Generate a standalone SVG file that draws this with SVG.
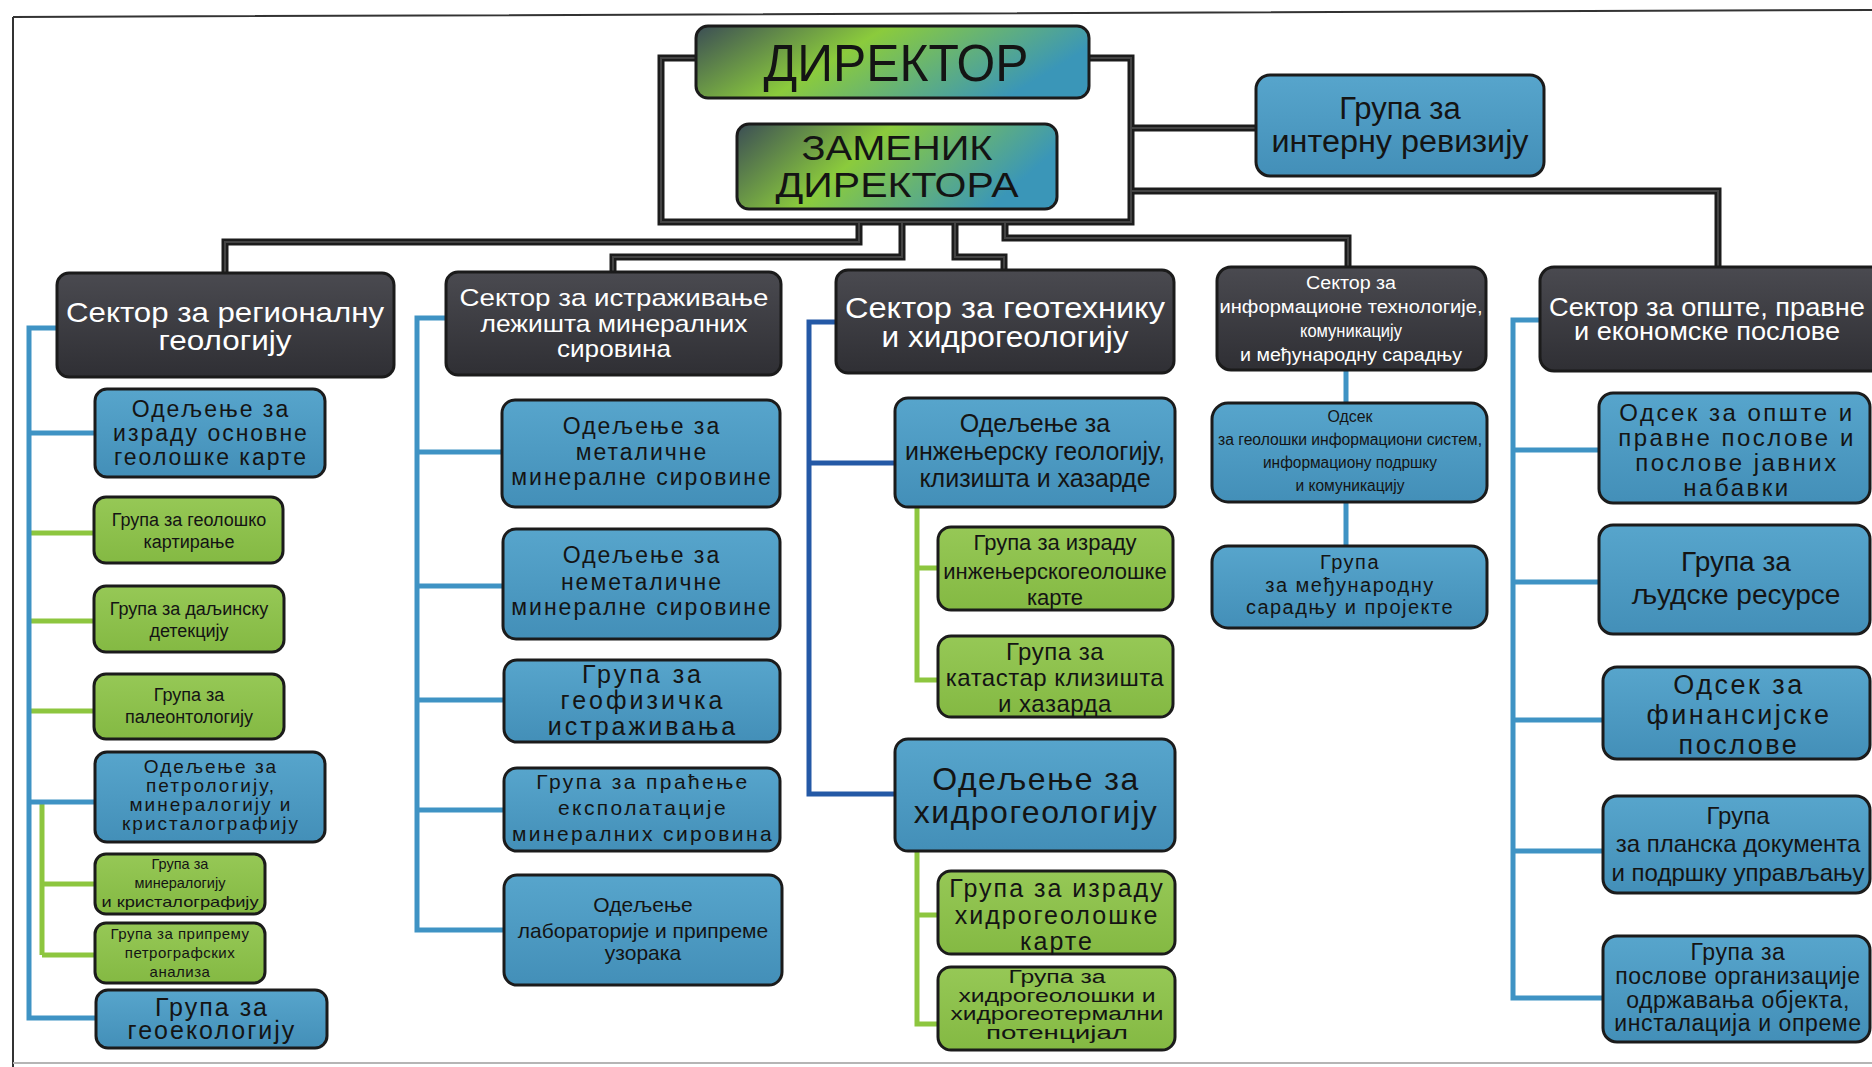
<svg xmlns="http://www.w3.org/2000/svg" width="1872" height="1067" viewBox="0 0 1872 1067">
<defs>
<linearGradient id="gTop" x1="0" y1="0" x2="1" y2="0.3">
<stop offset="0" stop-color="#3b4d55"/><stop offset="0.45" stop-color="#8bcb3c"/><stop offset="1" stop-color="#3a96b8"/>
</linearGradient>
<linearGradient id="gSec" x1="0" y1="0" x2="0" y2="1">
<stop offset="0" stop-color="#4a4a50"/><stop offset="1" stop-color="#2f2f34"/>
</linearGradient>
<linearGradient id="gBlue" x1="0" y1="0" x2="0" y2="1">
<stop offset="0" stop-color="#57a5cc"/><stop offset="1" stop-color="#438fb8"/>
</linearGradient>
<linearGradient id="gGreen" x1="0" y1="0" x2="0" y2="1">
<stop offset="0" stop-color="#96c856"/><stop offset="1" stop-color="#84b943"/>
</linearGradient>
</defs>
<style>
.box{stroke:#1b1b1b;stroke-width:3}
.top{fill:url(#gTop)}
.sec{fill:url(#gSec)}
.blue{fill:url(#gBlue)}
.green{fill:url(#gGreen)}
text{font-family:"Liberation Sans",Arial,sans-serif;text-anchor:middle;fill:#141414}
.st{fill:#ffffff}
.wide{letter-spacing:1.5px}
.blk{fill:none;stroke:#1c1c1c;stroke-width:7}
.blk2{fill:none;stroke:#444;stroke-width:2}
.bl{fill:none;stroke:#3f93c4;stroke-width:5}
.dbl{fill:none;stroke:#2459a6;stroke-width:5}
.gr{fill:none;stroke:#8dc63f;stroke-width:5}
.frame{fill:none;stroke:#333;stroke-width:2}
</style>
<rect width="1872" height="1067" fill="#ffffff"/>
<path class="frame" d="M13,17 L1872,10 M13,17 V1067"/>
<path d="M13,1063 H1872" stroke="#b5b5b5" stroke-width="2"/>

<g id="connectors">
<g id="black">
<path class="blk" d="M696,58 H661 V222 H1131 V58 H1088"/>
<path class="blk" d="M1131,128 H1256"/>
<path class="blk" d="M1131,191 H1718 V268"/>
<path class="blk" d="M859,222 V242 H225 V274"/>
<path class="blk" d="M902,222 V257 H613 V272"/>
<path class="blk" d="M955,222 V257 H1004 V271"/>
<path class="blk" d="M1005,222 V238 H1348 V268"/>
<path class="blk2" d="M696,58 H661 V222 H1131 V58 H1088 M1131,128 H1256 M1131,191 H1718 V268 M859,222 V242 H225 V274 M902,222 V257 H613 V272 M955,222 V257 H1004 V271 M1005,222 V238 H1348 V268"/>
</g>
<g id="col1">
<path class="gr" d="M29,533 H95 M29,621 H95 M29,711 H95 M42,802 V955 M42,884 H96 M42,955 H96"/>
<path class="bl" d="M57,328 H29 V1018 H97 M29,433 H96 M29,802 H96"/>
</g>
<g id="col2">
<path class="bl" d="M446,318 H417 V930 H504 M417,452 H503 M417,586 H504 M417,700 H505 M417,810 H505"/>
</g>
<g id="col3">
<path class="dbl" d="M836,322 H809 V794 H896 M809,463 H896"/>
<path class="gr" d="M917,507 V680 H939 M917,568 H939 M917,851 V1024 H939 M917,915 H939"/>
</g>
<g id="col4">
<path class="bl" d="M1346,370 V404 M1346,502 V547"/>
</g>
<g id="col5">
<path class="bl" d="M1540,320 H1513 V998 H1604 M1513,450 H1600 M1513,582 H1600 M1513,720 H1604 M1513,851 H1604"/>
</g>
</g>

<g id="n-direktor"><rect class="box top" x="696" y="26" width="393" height="72" rx="12"/>
<text x="896" y="81" font-size="52" textLength="265" lengthAdjust="spacingAndGlyphs">ДИРЕКТОР</text></g>
<g id="n-zamenik"><rect class="box top" x="737" y="124" width="320" height="85" rx="12"/>
<text x="897" y="160" font-size="35" textLength="191" lengthAdjust="spacingAndGlyphs">ЗАМЕНИК</text><text x="897" y="197" font-size="35" textLength="243" lengthAdjust="spacingAndGlyphs">ДИРЕКТОРА</text></g>
<g id="n-revizija"><rect class="box blue" x="1256" y="75" width="288" height="101" rx="14"/>
<text x="1400" y="119" font-size="31">Група за</text><text x="1400" y="152" font-size="31" textLength="257" lengthAdjust="spacingAndGlyphs">интерну ревизију</text></g>

<g id="s1"><rect class="box sec" x="57" y="273" width="337" height="104" rx="12"/>
<text class="st" x="225" y="322" font-size="28" textLength="318" lengthAdjust="spacingAndGlyphs">Сектор за регионалну</text><text class="st" x="225" y="350" font-size="28" textLength="133" lengthAdjust="spacingAndGlyphs">геологију</text></g>
<g id="s2"><rect class="box sec" x="446" y="272" width="335" height="103" rx="12"/>
<text class="st" font-size="24"><tspan x="614" y="306" textLength="309" lengthAdjust="spacingAndGlyphs">Сектор за истраживање</tspan><tspan x="614" y="332" textLength="267" lengthAdjust="spacingAndGlyphs">лежишта минералних</tspan><tspan x="614" y="357" textLength="114" lengthAdjust="spacingAndGlyphs">сировина</tspan></text></g>
<g id="s3"><rect class="box sec" x="836" y="270" width="338" height="103" rx="12"/>
<text class="st" font-size="29"><tspan x="1005" y="318" textLength="320" lengthAdjust="spacingAndGlyphs">Сектор за геотехнику</tspan><tspan x="1005" y="347" textLength="247" lengthAdjust="spacingAndGlyphs">и хидрогеологију</tspan></text></g>
<g id="s4"><rect class="box sec" x="1217" y="267" width="269" height="103" rx="14"/>
<text class="st" font-size="18"><tspan x="1351" y="289" textLength="90" lengthAdjust="spacingAndGlyphs">Сектор за</tspan><tspan x="1351" y="313" textLength="263" lengthAdjust="spacingAndGlyphs">информационе технологије,</tspan><tspan x="1351" y="337" textLength="102" lengthAdjust="spacingAndGlyphs">комуникацију</tspan><tspan x="1351" y="361" textLength="222" lengthAdjust="spacingAndGlyphs">и међународну сарадњу</tspan></text></g>
<g id="s5"><rect class="box sec" x="1540" y="267" width="345" height="104" rx="14"/>
<text class="st" font-size="25"><tspan x="1707" y="316" textLength="316" lengthAdjust="spacingAndGlyphs">Сектор за опште, правне</tspan><tspan x="1707" y="340" textLength="266" lengthAdjust="spacingAndGlyphs">и економске послове</tspan></text></g>

<g id="c1n1"><rect class="box blue" x="95" y="389" width="230" height="88" rx="12"/>
<text font-size="23" letter-spacing="2"><tspan x="211" y="417">Одељење за</tspan><tspan x="211" y="441">израду основне</tspan><tspan x="211" y="465">геолошке карте</tspan></text></g>
<g id="c1n2"><rect class="box green" x="94" y="497" width="189" height="66" rx="12"/>
<text font-size="18"><tspan x="189" y="526">Група за геолошко</tspan><tspan x="189" y="548">картирање</tspan></text></g>
<g id="c1n3"><rect class="box green" x="94" y="586" width="190" height="66" rx="12"/>
<text font-size="18"><tspan x="189" y="615">Група за даљинску</tspan><tspan x="189" y="637">детекцију</tspan></text></g>
<g id="c1n4"><rect class="box green" x="94" y="674" width="190" height="65" rx="12"/>
<text font-size="18"><tspan x="189" y="701">Група за</tspan><tspan x="189" y="723">палеонтологију</tspan></text></g>
<g id="c1n5"><rect class="box blue" x="95" y="752" width="230" height="90" rx="12"/>
<text font-size="19" letter-spacing="2"><tspan x="211" y="773">Одељење за</tspan><tspan x="211" y="792">петрологију,</tspan><tspan x="211" y="811">минералогију и</tspan><tspan x="211" y="830">кристалографију</tspan></text></g>
<g id="c1n6"><rect class="box green" x="95" y="854" width="170" height="60" rx="11"/>
<text font-size="14.5"><tspan x="180" y="869">Група за</tspan><tspan x="180" y="888">минералогију</tspan><tspan x="180" y="907" textLength="157" lengthAdjust="spacingAndGlyphs">и кристалографију</tspan></text></g>
<g id="c1n7"><rect class="box green" x="95" y="923" width="170" height="60" rx="11"/>
<text font-size="15" letter-spacing="0.5"><tspan x="180" y="939">Група за припрему</tspan><tspan x="180" y="958">петрографских</tspan><tspan x="180" y="977">анализа</tspan></text></g>
<g id="c1n8"><rect class="box blue" x="96" y="990" width="231" height="58" rx="12"/>
<text font-size="25" letter-spacing="2"><tspan x="212" y="1016">Група за</tspan><tspan x="212" y="1039">геоекологију</tspan></text></g>

<g id="c2n1"><rect class="box blue" x="502" y="400" width="278" height="107" rx="13"/>
<text font-size="23" letter-spacing="2"><tspan x="642" y="434">Одељење за</tspan><tspan x="642" y="460">металичне</tspan><tspan x="642" y="485">минералне сировине</tspan></text></g>
<g id="c2n2"><rect class="box blue" x="503" y="529" width="277" height="110" rx="13"/>
<text font-size="23" letter-spacing="2"><tspan x="642" y="563">Одељење за</tspan><tspan x="642" y="590">неметаличне</tspan><tspan x="642" y="615">минералне сировине</tspan></text></g>
<g id="c2n3"><rect class="box blue" x="504" y="660" width="276" height="82" rx="13"/>
<text font-size="25" letter-spacing="3"><tspan x="643" y="683">Група за</tspan><tspan x="643" y="709">геофизичка</tspan><tspan x="643" y="735">истраживања</tspan></text></g>
<g id="c2n4"><rect class="box blue" x="504" y="768" width="276" height="83" rx="13"/>
<text font-size="21" letter-spacing="2.4"><tspan x="643" y="789">Група за праћење</tspan><tspan x="643" y="815">експолатације</tspan><tspan x="643" y="841">минералних сировина</tspan></text></g>
<g id="c2n5"><rect class="box blue" x="504" y="875" width="278" height="110" rx="13"/>
<text font-size="21"><tspan x="643" y="912">Одељење</tspan><tspan x="643" y="938">лабораторије и припреме</tspan><tspan x="643" y="960">узорака</tspan></text></g>

<g id="c3n1"><rect class="box blue" x="895" y="398" width="280" height="109" rx="13"/>
<text font-size="25"><tspan x="1035" y="432">Одељење за</tspan><tspan x="1035" y="460">инжењерску геологију,</tspan><tspan x="1035" y="487">клизишта и хазарде</tspan></text></g>
<g id="c3n2"><rect class="box green" x="938" y="527" width="235" height="83" rx="13"/>
<text font-size="22"><tspan x="1055" y="550">Група за израду</tspan><tspan x="1055" y="579">инжењерскогеолошке</tspan><tspan x="1055" y="605">карте</tspan></text></g>
<g id="c3n3"><rect class="box green" x="938" y="636" width="235" height="81" rx="13"/>
<text font-size="24" letter-spacing="0.5"><tspan x="1055" y="660">Група за</tspan><tspan x="1055" y="686">катастар клизишта</tspan><tspan x="1055" y="712">и хазарда</tspan></text></g>
<g id="c3n4"><rect class="box blue" x="895" y="739" width="280" height="112" rx="13"/>
<text class="wide" font-size="32"><tspan x="1036" y="790">Одељење за</tspan><tspan x="1036" y="823">хидрогеологију</tspan></text></g>
<g id="c3n5"><rect class="box green" x="938" y="871" width="237" height="83" rx="13"/>
<text font-size="25" letter-spacing="2"><tspan x="1057" y="897">Група за израду</tspan><tspan x="1057" y="924">хидрогеолошке</tspan><tspan x="1057" y="950">карте</tspan></text></g>
<g id="c3n6"><rect class="box green" x="938" y="967" width="237" height="83" rx="13"/>
<text font-size="18"><tspan x="1057" y="983" textLength="97" lengthAdjust="spacingAndGlyphs">Група за</tspan><tspan x="1057" y="1002" textLength="197" lengthAdjust="spacingAndGlyphs">хидрогеолошки и</tspan><tspan x="1057" y="1020" textLength="213" lengthAdjust="spacingAndGlyphs">хидрогеотермални</tspan><tspan x="1057" y="1039" textLength="142" lengthAdjust="spacingAndGlyphs">потенцијал</tspan></text></g>

<g id="c4n1"><rect class="box blue" x="1212" y="403" width="275" height="99" rx="16"/>
<text font-size="16"><tspan x="1350" y="422" textLength="45" lengthAdjust="spacingAndGlyphs">Одсек</tspan><tspan x="1350" y="445" textLength="264" lengthAdjust="spacingAndGlyphs">за геолошки информациони систем,</tspan><tspan x="1350" y="468" textLength="174" lengthAdjust="spacingAndGlyphs">информациону подршку</tspan><tspan x="1350" y="491" textLength="109" lengthAdjust="spacingAndGlyphs">и комуникацију</tspan></text></g>
<g id="c4n2"><rect class="box blue" x="1212" y="546" width="275" height="82" rx="16"/>
<text font-size="20" letter-spacing="1.5"><tspan x="1350" y="569">Група</tspan><tspan x="1350" y="592">за међународну</tspan><tspan x="1350" y="614">сарадњу и пројекте</tspan></text></g>

<g id="c5n1"><rect class="box blue" x="1599" y="393" width="271" height="110" rx="14"/>
<text font-size="24" letter-spacing="2.5"><tspan x="1737" y="421">Одсек за опште и</tspan><tspan x="1737" y="446">правне послове и</tspan><tspan x="1737" y="471">послове јавних</tspan><tspan x="1737" y="496">набавки</tspan></text></g>
<g id="c5n2"><rect class="box blue" x="1599" y="525" width="271" height="109" rx="14"/>
<text font-size="28"><tspan x="1736" y="571">Група за</tspan><tspan x="1736" y="604">људске ресурсе</tspan></text></g>
<g id="c5n3"><rect class="box blue" x="1603" y="667" width="267" height="92" rx="14"/>
<text font-size="27" letter-spacing="2.5"><tspan x="1739" y="694">Одсек за</tspan><tspan x="1739" y="724">финансијске</tspan><tspan x="1739" y="754">послове</tspan></text></g>
<g id="c5n4"><rect class="box blue" x="1603" y="796" width="267" height="97" rx="14"/>
<text font-size="24"><tspan x="1738" y="824">Група</tspan><tspan x="1738" y="852">за планска документа</tspan><tspan x="1738" y="881">и подршку управљању</tspan></text></g>
<g id="c5n5"><rect class="box blue" x="1603" y="936" width="267" height="106" rx="14"/>
<text font-size="23" letter-spacing="0.6"><tspan x="1738" y="960">Група за</tspan><tspan x="1738" y="984">послове организације</tspan><tspan x="1738" y="1008">одржавања објекта,</tspan><tspan x="1738" y="1031">инсталација и опреме</tspan></text></g>
</svg>
